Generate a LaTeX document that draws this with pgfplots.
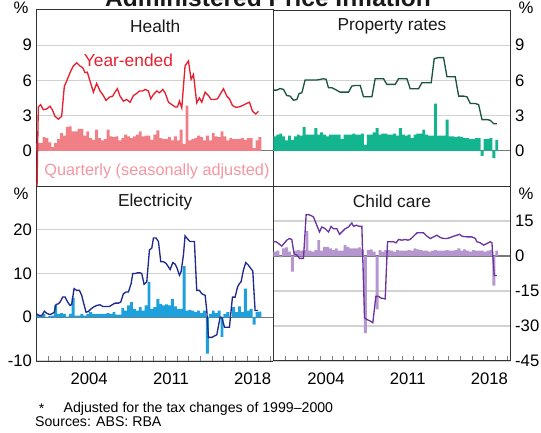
\documentclass[border=0pt]{standalone}
\usepackage{pgfplots}
\pgfplotsset{compat=1.18}
\usepackage{pgfplotstable}
\usepackage{fontspec}
\setmainfont{Liberation Sans}

\definecolor{healthline}{RGB}{230,32,48}
\definecolor{healthbar}{RGB}{241,128,134}
\definecolor{healthlab}{RGB}{245,150,160}
\definecolor{propline}{RGB}{28,84,62}
\definecolor{propbar}{RGB}{18,181,142}
\definecolor{elecline}{RGB}{32,42,140}
\definecolor{elecbar}{RGB}{30,160,220}
\definecolor{childline}{RGB}{108,52,160}
\definecolor{childbar}{RGB}{182,150,206}
\definecolor{gridc}{RGB}{210,210,210}
\definecolor{zeroc}{RGB}{120,120,120}

\pgfplotstableread[row sep=\\]{y\\
0.66\\0.66\\1.17\\1.09\\0.71\\0.31\\0.66\\1.0\\1.51\\1.29\\
2.03\\2.09\\1.66\\1.66\\1.86\\1.86\\1.29\\1.66\\1.09\\0.94\\
1.8\\1.09\\0.89\\1.0\\1.8\\1.23\\1.17\\1.23\\0.89\\1.09\\
1.37\\1.23\\1.09\\1.23\\1.37\\1.66\\1.23\\1.29\\1.29\\0.94\\
1.37\\1.74\\1.09\\1.0\\1.0\\1.17\\0.89\\1.23\\0.89\\1.8\\
0.6\\3.86\\0.89\\1.0\\1.09\\1.29\\1.17\\0.89\\1.29\\0.89\\
1.51\\1.23\\1.17\\1.66\\1.23\\0.89\\1.09\\1.0\\1.0\\1.0\\
1.09\\0.94\\1.09\\1.09\\0.23\\0.89\\1.17\\
}\healthq

\pgfplotstableread[row sep=\\]{y\\
1.23\\1.37\\1.46\\1.23\\0.89\\1.29\\0.94\\1.23\\1.37\\1.29\\
2.03\\1.37\\1.37\\1.37\\1.94\\1.37\\1.57\\1.37\\1.23\\1.37\\
1.37\\1.37\\1.37\\1.0\\1.37\\1.37\\1.37\\1.46\\1.37\\1.37\\
1.46\\0.51\\1.37\\1.37\\1.57\\1.94\\1.37\\1.46\\1.46\\1.37\\
1.37\\1.46\\1.29\\1.94\\1.37\\1.29\\1.37\\1.09\\1.37\\1.46\\
1.46\\1.8\\1.37\\1.29\\1.29\\4.03\\1.29\\1.29\\1.29\\2.66\\
1.23\\1.23\\1.17\\1.23\\1.17\\1.09\\1.09\\1.0\\1.0\\1.09\\
1.09\\-0.43\\1.0\\1.0\\1.09\\-0.63\\0.94\\
}\propq

\pgfplotstableread[row sep=\\]{y\\
0.62\\0.38\\0.77\\0.1\\0.3\\0.38\\2.69\\0.77\\0.92\\0.77\\
0.15\\0.77\\4.46\\0.38\\0.38\\0.77\\0.38\\0.77\\1.15\\0.77\\
0.77\\0.77\\0.77\\0.77\\0.92\\0.77\\1.15\\0.62\\0.62\\2.15\\
1.54\\2.69\\3.46\\1.92\\1.54\\2.31\\1.54\\2.69\\8.08\\1.92\\
2.31\\4.23\\3.08\\2.69\\2.92\\2.69\\4.23\\2.46\\1.92\\1.92\\
11.7\\1.54\\1.69\\1.54\\1.15\\1.54\\0.92\\1.54\\-8.3\\0.77\\
1.54\\0.92\\1.54\\-4.5\\0.77\\1.15\\0.1\\2.31\\1.15\\2.46\\
1.15\\6.54\\1.54\\1.92\\-1.7\\1.15\\1.31\\
}\elecq

\pgfplotstableread[row sep=\\]{y\\
1.84\\2.26\\-0.57\\3.25\\3.68\\1.84\\-6.65\\2.26\\2.55\\2.26\\
2.55\\10.75\\2.26\\1.84\\2.55\\6.79\\2.26\\3.96\\3.96\\3.25\\
2.55\\3.25\\2.26\\2.26\\4.67\\3.96\\3.25\\3.25\\3.25\\3.68\\
2.83\\-33.1\\2.55\\2.83\\1.84\\-22.9\\2.55\\1.84\\2.55\\2.55\\
2.26\\1.84\\2.55\\2.26\\2.26\\2.26\\2.55\\2.26\\3.25\\2.83\\
2.55\\2.26\\2.26\\1.84\\2.26\\2.55\\2.26\\2.26\\2.26\\2.55\\
2.26\\2.26\\2.55\\3.25\\2.26\\2.83\\2.26\\1.84\\2.55\\2.26\\
2.26\\2.26\\1.84\\2.26\\2.55\\-12.7\\2.26\\
}\childq

\pgfplotsset{
  panel/.style={
    scale only axis, width=177.75pt, xmin=2000, xmax=2020.3,
    axis line style={draw=black!80, line width=0.75pt},
    ymajorgrids, major grid style={draw=gridc, line width=0.9pt},
    major tick length=0pt,
    tick label style={font=\fontsize{12.5}{15}\selectfont},
    /pgf/number format/assume math mode=true,
    extra y ticks={0}, extra y tick labels={},
    extra y tick style={major grid style={draw=zeroc, line width=0.9pt}},
  },
  toppanel/.style={panel, height=132pt, ymin=-3, ymax=12, ytick={0,3,6,9}, xtick=\empty},
  botpanel/.style={panel, height=131.25pt,
    xtick={2004.5,2011.5,2018.5}, xticklabels={2004,2011,2018},
    minor xtick={2001,2002,...,2020}, minor tick length=3.75pt,
    xtick align=inside, xtick pos=bottom,
    xticklabel style={yshift=-5pt}},
  bars/.style={ybar, bar width=0.25, bar shift=0pt, draw=none},
}
\tikzset{ptitle/.style={font=\fontsize{13}{15}\selectfont, text=black!90}}

\begin{document}
\begin{tikzpicture}
% Health
\begin{axis}[toppanel, at={(27.5pt,-7.5pt)}, anchor=north west]
\addplot[bars, fill=healthbar] table[x expr=2000.125+0.25*\coordindex, y=y]{\healthq};
\addplot[healthline, line width=1pt] coordinates {
(2000.0,-5)(2000.14,3.74)(2000.34,3.94)(2000.57,3.5)(2000.86,3.57)(2001.14,3.8)(2001.34,3.5)(2001.57,2.94)(2001.86,2.7)
(2002.14,2.94)(2002.37,5.5)(2002.57,5.94)(2002.86,6.66)(2003.14,7.23)(2003.43,7.5)(2003.71,7.23)(2003.94,7.09)
(2004.14,6.66)(2004.34,6.7)(2004.57,5.94)(2004.86,5.0)(2005.14,5.74)(2005.43,5.1)(2005.71,4.71)(2005.94,4.29)
(2006.23,4.57)(2006.51,4.66)(2006.71,5.0)(2006.91,5.29)(2007.14,4.66)(2007.43,4.23)(2007.71,4.37)(2008.0,4.14)
(2008.29,4.71)(2008.57,4.89)(2008.8,5.1)(2009.09,5.1)(2009.29,5.23)(2009.57,5.1)(2009.77,4.43)(2010.0,4.8)
(2010.29,5.1)(2010.51,4.94)(2010.8,5.23)(2011.0,4.94)(2011.29,4.14)(2011.57,3.94)(2011.86,3.74)(2012.06,3.74)
(2012.23,4.23)(2012.43,3.66)(2012.71,7.23)(2013.0,7.66)(2013.23,6.09)(2013.43,6.5)(2013.71,4.09)(2013.94,4.51)
(2014.14,4.14)(2014.43,5.0)(2014.71,4.71)(2014.94,4.37)(2015.23,4.37)(2015.49,4.43)(2015.71,4.8)(2016.0,5.29)
(2016.29,4.66)(2016.51,4.43)(2016.77,3.86)(2017.06,3.71)(2017.34,3.74)(2017.63,3.86)(2017.91,4.0)(2018.23,4.14)
(2018.49,3.37)(2018.77,3.14)(2019.0,3.37)};
\node[font=\fontsize{13}{15}\selectfont, text=healthline] at (axis cs:2007.86,7.74) {Year-ended};
\node[font=\fontsize{12.2}{14}\selectfont, text=healthlab] at (axis cs:2010.3,-1.77) {Quarterly (seasonally adjusted)};
\node[ptitle] at ([yshift=-12.5pt]rel axis cs:0.5,1) {Health};
\end{axis}
% Property rates
\begin{axis}[toppanel, at={(205.1pt,-7.5pt)}, anchor=north west, yticklabel pos=right]
\addplot[bars, fill=propbar] table[x expr=2000.125+0.25*\coordindex, y=y]{\propq};
\addplot[propline, line width=1pt] coordinates {
(2000.0,5.17)(2000.29,5.17)(2000.57,5.31)(2000.86,5.23)(2001.14,4.71)(2001.43,4.66)(2001.71,4.31)(2002.0,4.37)
(2002.2,4.89)(2002.43,4.94)(2002.71,6.03)(2003.0,6.03)(2003.29,6.03)(2003.71,6.03)(2004.0,6.09)(2004.29,6.14)
(2004.51,6.09)(2004.71,5.37)(2005.0,5.37)(2005.29,5.23)(2005.71,5.0)(2006.14,5.0)(2006.43,5.0)(2006.71,5.51)
(2007.0,5.57)(2007.43,5.57)(2007.71,4.6)(2008.0,4.6)(2008.43,4.6)(2008.71,6.14)(2009.0,6.14)(2009.43,6.14)
(2009.71,5.66)(2010.0,5.66)(2010.43,5.66)(2010.71,6.14)(2011.0,6.14)(2011.43,6.14)(2011.71,5.29)(2012.0,5.29)
(2012.43,5.29)(2012.71,5.8)(2013.14,5.8)(2013.51,5.8)(2013.77,7.86)(2014.14,7.94)(2014.57,7.94)(2014.86,6.31)
(2015.29,6.31)(2015.57,6.31)(2015.86,4.66)(2016.29,4.66)(2016.57,4.6)(2016.86,4.03)(2017.29,4.03)(2017.57,3.94)
(2017.86,2.66)(2018.29,2.66)(2018.57,2.6)(2018.86,2.31)(2019.14,2.31)};
\node[ptitle] at ([yshift=-12.5pt]rel axis cs:0.5,1) {Property rates};
\end{axis}
% Electricity
\begin{axis}[botpanel, at={(27.5pt,-139.5pt)}, anchor=north west, ymin=-10, ymax=30, ytick={-10,0,10,20}]
\addplot[bars, fill=elecbar] table[x expr=2000.125+0.25*\coordindex, y=y]{\elecq};
\addplot[elecline, line width=1pt] coordinates {
(2000.0,0.77)(2000.23,0.38)(2000.43,0.38)(2000.66,1.38)(2000.86,0.92)(2001.09,0.62)(2001.29,0.77)(2001.51,1.15)
(2001.66,2.92)(2001.86,3.08)(2002.0,3.46)(2002.23,4.62)(2002.43,4.62)(2002.66,3.46)(2002.86,2.69)(2003.0,2.92)
(2003.2,6.54)(2003.43,6.15)(2003.66,6.15)(2003.86,5.0)(2004.0,3.46)(2004.23,1.15)(2004.43,1.31)(2004.66,1.92)
(2004.86,2.31)(2005.14,2.69)(2005.43,2.85)(2005.66,2.46)(2005.94,2.46)(2006.23,2.46)(2006.51,2.92)(2006.71,3.23)
(2007.0,3.23)(2007.2,3.46)(2007.43,5.38)(2007.66,5.77)(2007.86,5.77)(2008.09,7.69)(2008.23,10.0)(2008.43,10.0)
(2008.63,10.15)(2008.86,10.15)(2009.0,10.0)(2009.2,7.54)(2009.43,8.08)(2009.66,15.4)(2009.86,15.8)(2010.0,18.1)
(2010.23,18.1)(2010.43,17.3)(2010.63,12.7)(2010.86,12.7)(2011.09,12.3)(2011.29,11.5)(2011.43,10.9)(2011.66,12.5)
(2011.86,12.15)(2012.0,11.4)(2012.23,9.6)(2012.37,10.4)(2012.57,14.2)(2012.71,18.6)(2012.94,17.85)(2013.14,17.3)
(2013.37,17.3)(2013.51,17.3)(2013.71,6.15)(2013.94,6.15)(2014.14,5.38)(2014.43,5.0)(2014.57,1.54)(2014.71,-4.6)
(2015.0,-4.6)(2015.29,-4.2)(2015.43,-4.0)(2015.71,0)(2015.86,0)(2016.09,-2.3)(2016.29,-2.3)(2016.51,-2.3)
(2016.77,4.6)(2017.0,4.6)(2017.2,6.9)(2017.37,7.7)(2017.51,8.1)(2017.71,10.8)(2017.91,12.5)(2018.14,11.9)
(2018.34,11.15)(2018.51,10.6)(2018.71,1.54)(2018.94,1.54)};
\node[ptitle] at ([yshift=-11.8pt]rel axis cs:0.5,1) {Electricity};
\end{axis}
% Child care
\begin{axis}[botpanel, at={(205.1pt,-139.5pt)}, anchor=north west, ymin=-45, ymax=30, ytick={-45,-30,-15,0,15}, yticklabel pos=right]
\addplot[bars, fill=childbar] table[x expr=2000.125+0.25*\coordindex, y=y]{\childq};
\addplot[childline, line width=1pt] coordinates {
(2000.0,6.08)(2000.23,6.08)(2000.43,5.38)(2000.71,4.25)(2000.91,5.38)(2001.14,6.79)(2001.37,7.5)(2001.57,7.08)
(2001.77,0.85)(2002.0,0.42)(2002.23,-1.0)(2002.57,-1.0)(2002.8,17.8)(2003.0,17.7)(2003.2,17.4)(2003.43,16.7)
(2003.71,13.2)(2003.94,10.3)(2004.14,12.45)(2004.43,11.7)(2004.71,10.3)(2004.94,12.7)(2005.14,11.7)(2005.43,11.7)
(2005.66,9.3)(2005.86,10.3)(2006.14,11.7)(2006.43,12.45)(2006.71,14.15)(2006.86,12.7)(2007.09,13.2)(2007.37,12.7)
(2007.57,12.7)(2007.8,-26.5)(2008.0,-27.2)(2008.29,-27.9)(2008.51,-28.6)(2008.77,-17.3)(2009.0,-17.3)(2009.2,-18.0)
(2009.57,-18.4)(2009.77,6.08)(2010.0,6.08)(2010.29,6.08)(2010.51,5.66)(2010.71,7.08)(2011.0,6.79)(2011.29,7.08)
(2011.51,6.79)(2011.71,7.08)(2012.0,8.5)(2012.29,9.9)(2012.57,10.0)(2012.86,9.9)(2013.14,8.5)(2013.43,7.5)
(2013.71,8.2)(2014.0,8.9)(2014.29,7.9)(2014.57,7.5)(2014.86,7.5)(2015.14,7.9)(2015.43,8.5)(2015.71,8.9)
(2015.94,9.3)(2016.14,8.5)(2016.57,8.2)(2017.0,8.2)(2017.29,7.5)(2017.43,6.08)(2017.71,5.66)(2018.0,4.67)
(2018.29,5.38)(2018.57,6.08)(2018.71,5.66)(2018.91,-8.35)(2019.14,-8.35)};
\node[ptitle] at ([yshift=-11.8pt]rel axis cs:0.5,1) {Child care};
\end{axis}
% Percent signs
\node[anchor=east, font=\fontsize{12.5}{15}\selectfont] at (24.8pt,-6pt) {\%};
\node[anchor=west, font=\fontsize{12.5}{15}\selectfont] at (385.5pt,-6pt) {\%};
\node[anchor=east, font=\fontsize{12.5}{15}\selectfont] at (24.8pt,-145.5pt) {\%};
\node[anchor=west, font=\fontsize{12.5}{15}\selectfont] at (385.5pt,-145.5pt) {\%};
% Title (cut off at top as in reference)
\node[anchor=base, font=\bfseries\fontsize{18.4}{20}\selectfont, text=black!90] at (201pt,-4.9pt) {Administered Price Inflation};
% Footnotes
\node[anchor=west, font=\fontsize{10.6}{12}\selectfont, inner sep=0pt] at (29pt,-306.5pt) {*};
\node[anchor=west, font=\fontsize{10.6}{12}\selectfont, inner sep=0pt] at (47.5pt,-306.5pt) {Adjusted for the tax changes of 1999--2000};
\node[anchor=west, font=\fontsize{10.6}{12}\selectfont, inner sep=0pt] at (26.2pt,-316.5pt) {Sources: ABS: RBA};
\pgfresetboundingbox
\path[use as bounding box] (0,0) rectangle (405.75pt,-324pt);
\end{tikzpicture}
\end{document}
